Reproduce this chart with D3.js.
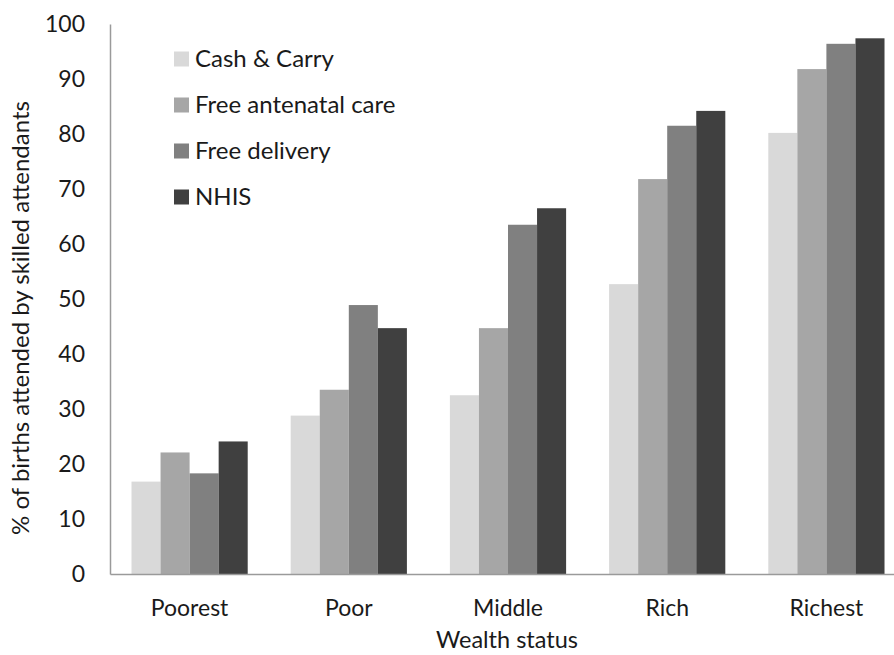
<!DOCTYPE html>
<html>
<head>
<meta charset="utf-8">
<script src="https://cdn.jsdelivr.net/npm/d3@7"></script>
<style>
  body { margin: 0; background: #fff; }
  text { font-family: Lato, "Open Sans", sans-serif; fill: #1a1a1a; }
</style>
</head>
<body>
<div id="chart"></div>
<script>
// wealth groups and policy series
const categories = ['Poorest', 'Poor', 'Middle', 'Rich', 'Richest'];
const seriesNames = ['Cash & Carry', 'Free antenatal care', 'Free delivery', 'NHIS'];
const cashCarry = [16.8, 28.8, 32.5, 52.7, 80.2];
const freeAntenatal = [22.1, 33.5, 44.7, 71.8, 91.8];
const freeDelivery = [18.3, 48.9, 63.5, 81.5, 96.4];
const nhis = [24.1, 44.7, 66.5, 84.2, 97.4];
const yTicks = [0, 10, 20, 30, 40, 50, 60, 70, 80, 90, 100];
const colors = ['#d9d9d9', '#a6a6a6', '#808080', '#404040'];

const seriesValues = [cashCarry, freeAntenatal, freeDelivery, nhis];

const width = 894, height = 655;
const svg = d3.select('#chart').append('svg')
  .attr('width', width)
  .attr('height', height);

// scales
const x = d3.scaleBand()
  .domain(categories)
  .range([110, 906])
  .paddingInner(0.27)
  .paddingOuter(0.135);

const xSub = d3.scaleBand()
  .domain(seriesNames)
  .range([0, x.bandwidth()]);

const y = d3.scaleLinear()
  .domain([0, 100])
  .range([574, 24]);

// bars
const groups = svg.append('g')
  .selectAll('g')
  .data(categories)
  .join('g')
  .attr('transform', d => `translate(${x(d)},0)`);

groups.selectAll('rect')
  .data((c, i) => seriesNames.map((s, j) => ({ s, v: seriesValues[j][i], j })))
  .join('rect')
  .attr('x', d => xSub(d.s))
  .attr('width', xSub.bandwidth())
  .attr('y', d => y(d.v))
  .attr('height', d => y(0) - y(d.v))
  .attr('fill', d => colors[d.j]);

// y axis
const yAxis = svg.append('g')
  .attr('transform', 'translate(110,0)')
  .call(d3.axisLeft(y).tickValues(yTicks).tickSize(0).tickPadding(25));
yAxis.select('.domain').attr('stroke', '#9a9a9a').attr('stroke-width', 1.5);
yAxis.selectAll('text').style('font-size', '23px').attr('fill', '#1a1a1a');

// x axis
const xAxis = svg.append('g')
  .attr('transform', `translate(0,${y(0)})`)
  .call(d3.axisBottom(x).tickSize(0).tickPadding(26));
xAxis.select('.domain').attr('stroke', '#9a9a9a').attr('stroke-width', 1.5);
xAxis.selectAll('text').style('font-size', '23px').attr('fill', '#1a1a1a');

// axis titles
svg.append('text')
  .attr('x', 507)
  .attr('y', 648)
  .attr('text-anchor', 'middle')
  .style('font-size', '23.5px')
  .text('Wealth status');

svg.append('text')
  .attr('transform', 'translate(29,318) rotate(-90)')
  .attr('text-anchor', 'middle')
  .style('font-size', '24px')
  .text('% of births  attended by skilled attendants');

// legend
const legend = svg.append('g')
  .selectAll('g')
  .data(seriesNames)
  .join('g')
  .attr('transform', (d, i) => `translate(174,${59 + i * 46})`);

legend.append('rect')
  .attr('y', -7.5)
  .attr('width', 15)
  .attr('height', 15)
  .attr('fill', (d, i) => colors[i]);

legend.append('text')
  .attr('x', 21)
  .attr('dy', '0.35em')
  .style('font-size', '24px')
  .text(d => d);
</script>
</body>
</html>
